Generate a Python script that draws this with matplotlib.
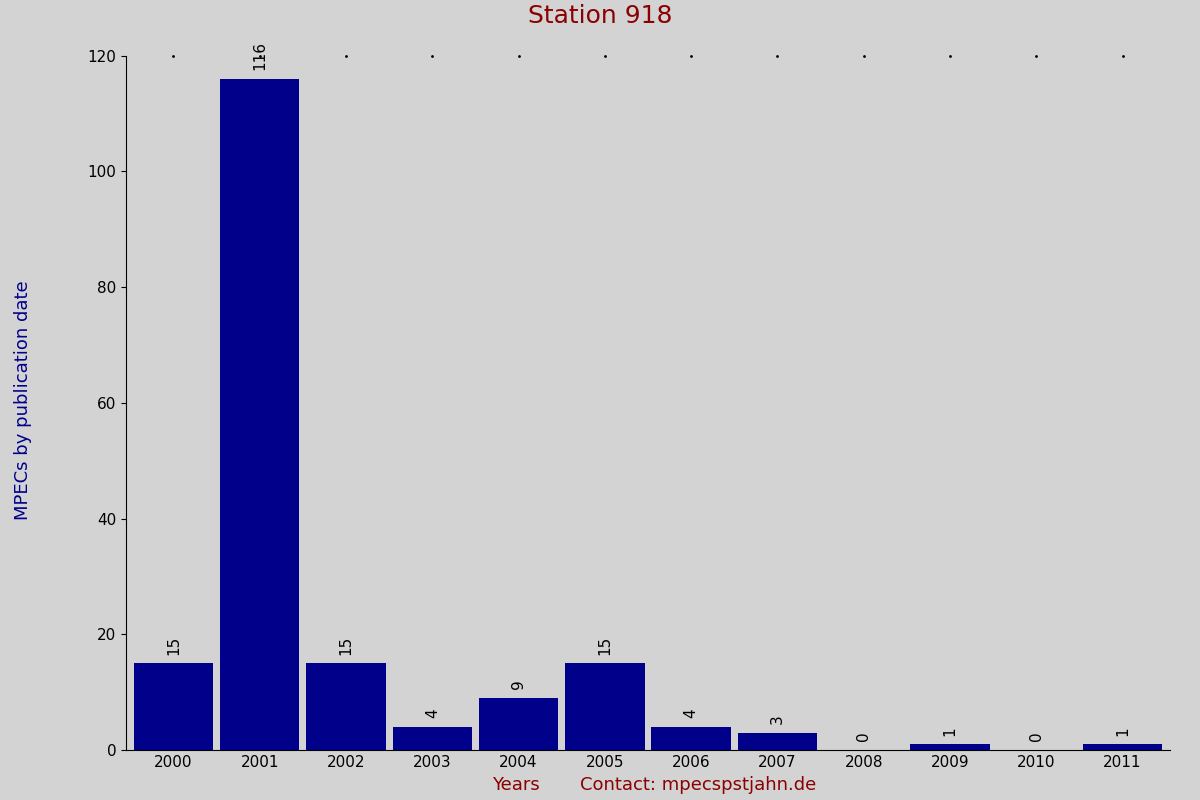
import matplotlib.pyplot as plt

years = ['2000','2001','2002','2003','2004','2005','2006','2007','2008','2009','2010','2011']
counts = [15, 116, 15, 4, 9, 15, 4, 3, 0, 1, 0, 1]

fig = plt.figure(figsize=(12, 8), dpi=100, facecolor='#d3d3d3')
ax = fig.add_axes([0.105, 0.0625, 0.87, 0.868], facecolor='#d3d3d3')
x = range(len(years))
ax.bar(x, counts, width=0.92, color='#00008b')
for i, v in zip(x, counts):
    ax.text(i, v + 1.5, str(v), rotation=90, ha='center', va='bottom', fontsize=11, color='black')
ax.set_xlim(-0.55, len(years) - 0.45)
ax.set_ylim(0, 120)
ax.set_yticks(range(0, 121, 20))
ax.set_xticks(list(x))
ax.set_xticklabels(years)
ax.tick_params(labelsize=11, colors='black')
ax.tick_params(axis='x', length=0)
for s in ['top', 'right']:
    ax.spines[s].set_visible(False)
ax.scatter(list(x), [120] * len(years), s=1, color='black', clip_on=False)
fig.suptitle('Station 918', color='#8b0000', fontsize=18, y=0.995)
fig.text(0.012, 0.5, 'MPECs by publication date', rotation=90, va='center', color='#00008b', fontsize=13)
fig.text(0.43, 0.007, 'Years', color='#8b0000', fontsize=13, ha='center', va='bottom')
fig.text(0.582, 0.007, 'Contact: mpecspstjahn.de', color='#8b0000', fontsize=13, ha='center', va='bottom')
fig.savefig('out.png', facecolor=fig.get_facecolor())
